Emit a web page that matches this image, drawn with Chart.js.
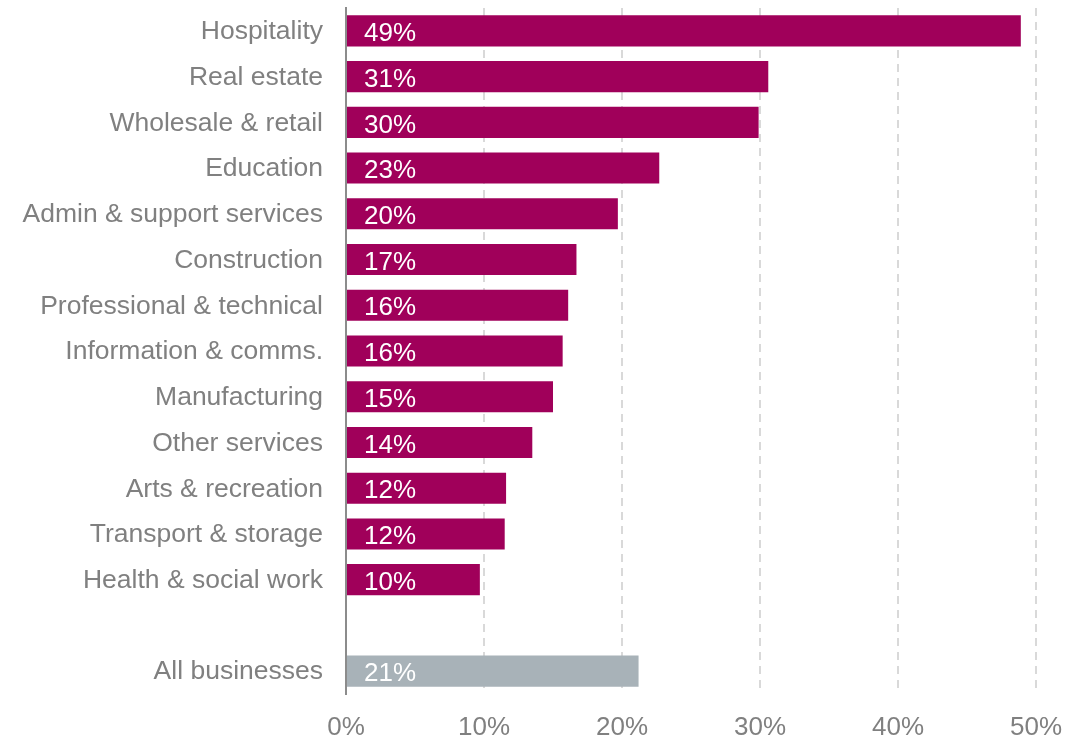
<!DOCTYPE html>
<html>
<head>
<meta charset="utf-8">
<script src="https://cdn.jsdelivr.net/npm/chart.js@4/dist/chart.umd.min.js"></script>
<style>
  html, body { margin: 0; padding: 0; background: #fff; }
  #wrap { width: 1087px; height: 738px; }
</style>
</head>
<body>
<div id="wrap"><canvas id="sectorChart" width="1087" height="738"></canvas></div>
<script>
// Share of businesses by sector (%), blank row separates the total
const sectors = [
    'Hospitality', 'Real estate', 'Wholesale & retail', 'Education',
    'Admin & support services', 'Construction', 'Professional & technical',
    'Information & comms.', 'Manufacturing', 'Other services',
    'Arts & recreation', 'Transport & storage', 'Health & social work',
    '', 'All businesses'
];
const shares = [48.9, 30.6, 29.9, 22.7, 19.7, 16.7, 16.1, 15.7, 15.0, 13.5, 11.6, 11.5, 9.7, null, 21.2];
const xTicks = [0, 10, 20, 30, 40, 50];

const sectorColour = '#A0005A';
const totalColour = '#A8B2B8';
const textGrey = '#808080';
const fontFamily = '"Liberation Sans", Arial, sans-serif';

// white value labels just inside the start of each bar
const valueLabels = {
    id: 'valueLabels',
    afterDatasetsDraw(chart) {
        const ctx = chart.ctx;
        const meta = chart.getDatasetMeta(0);
        ctx.save();
        ctx.fillStyle = '#ffffff';
        ctx.font = '26px ' + fontFamily;
        ctx.textAlign = 'left';
        ctx.textBaseline = 'middle';
        meta.data.forEach((bar, i) => {
            const v = shares[i];
            if (v === null) return;
            ctx.fillText(Math.round(v) + '%', bar.base + 17, bar.y + 3);
        });
        ctx.restore();
    }
};

// keep the plot area where the layout padding puts it
function noEdgePadding(scale) {
    scale.paddingTop = 0;
    scale.paddingBottom = 0;
    scale.paddingLeft = 0;
    scale.paddingRight = 0;
}

new Chart(document.getElementById('sectorChart'), {
    type: 'bar',
    data: {
        labels: sectors,
        datasets: [{
            data: shares,
            backgroundColor: sectors.map(s => s === 'All businesses' ? totalColour : sectorColour),
            barPercentage: 0.68,
            categoryPercentage: 1
        }]
    },
    options: {
        indexAxis: 'y',
        responsive: false,
        animation: false,
        layout: { padding: { top: 8, right: 51, bottom: 0, left: 0 } },
        plugins: {
            legend: { display: false },
            tooltip: { enabled: false }
        },
        scales: {
            x: {
                min: 0,
                max: 50,
                afterBuildTicks: scale => { scale.ticks = xTicks.map(v => ({ value: v })); },
                afterFit: scale => { noEdgePadding(scale); scale.height = 44; },
                ticks: {
                    color: textGrey,
                    font: { family: fontFamily, size: 26 },
                    padding: 18,
                    callback: v => v + '%'
                },
                grid: {
                    drawTicks: false,
                    color: ctx => ctx.tick && ctx.tick.value === 0 ? 'rgba(0,0,0,0)' : '#D9D9D9',
                    lineWidth: 2
                },
                border: { display: false, dash: [8, 6] }
            },
            y: {
                afterFit: scale => { noEdgePadding(scale); scale.width = 346; },
                ticks: {
                    color: textGrey,
                    font: { family: fontFamily, size: 26.5 },
                    padding: 23,
                    labelOffset: 1,
                    autoSkip: false
                },
                grid: { display: false, drawTicks: false },
                border: { display: true, color: '#8C8C8C', width: 2 }
            }
        }
    },
    plugins: [valueLabels]
});
</script>
</body>
</html>
